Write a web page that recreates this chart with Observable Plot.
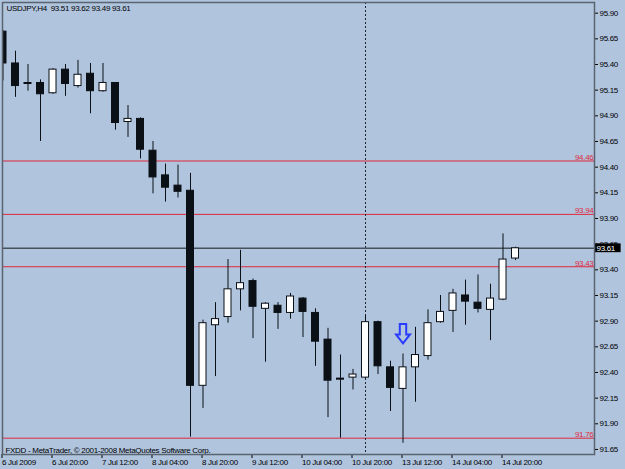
<!DOCTYPE html>
<html><head><meta charset="utf-8">
<script src="https://cdn.jsdelivr.net/npm/d3@7"></script>
<script src="https://cdn.jsdelivr.net/npm/@observablehq/plot@0.6"></script>
<style>
body{margin:0;background:#b0c4de;}
</style></head><body><div id="chart"></div>
<script>
// USDJPY H4 candles (bar index 0 = 6 Jul 2009 04:00)
const opens  = [95.72,95.41,95.22,95.22,95.12,95.35,95.19,95.31,95.14,95.22,94.84,94.87,94.56,94.32,94.22,94.17,92.27,92.86,92.94,93.21,93.29,93.02,93.05,92.98,93.12,92.98,92.72,92.34,92.35,92.35,92.89,92.45,92.24,92.45,92.56,92.89,93.00,93.15,93.08,93.01,93.11,93.51];
const highs  = [95.73,95.53,95.40,95.25,95.36,95.40,95.44,95.41,95.41,95.22,95.00,94.88,94.65,94.43,94.42,94.34,92.91,93.08,93.50,93.59,93.31,93.08,93.08,93.17,93.13,93.02,92.83,92.57,92.43,92.95,92.90,92.51,92.58,92.84,93.01,93.15,93.21,93.30,93.35,93.26,93.75,93.62];
const lows   = [95.24,95.08,95.14,94.65,95.11,95.09,95.17,94.92,95.13,94.76,94.69,94.48,94.14,94.06,94.10,91.77,92.05,92.36,92.88,93.00,92.73,92.50,92.82,92.92,92.74,92.46,91.96,91.76,92.23,92.34,92.38,92.02,91.71,92.11,92.52,92.88,92.79,92.86,92.98,92.71,93.10,93.49];
const closes = [95.41,95.19,95.21,95.11,95.35,95.21,95.30,95.14,95.22,94.83,94.87,94.57,94.30,94.20,94.16,92.27,92.88,92.92,93.21,93.27,93.04,93.07,92.98,93.14,92.99,92.70,92.32,92.33,92.38,92.89,92.46,92.25,92.45,92.57,92.88,92.99,93.17,93.09,93.02,93.12,93.50,93.61];

const levels = [94.46, 93.94, 93.43, 91.76];
const bid = 93.61;
const priceTicks = [95.90,95.65,95.40,95.15,94.90,94.65,94.40,94.15,93.90,93.65,93.40,93.15,92.90,92.65,92.40,92.15,91.90,91.65];
const timeTickBars = [0,4,8,12,16,20,24,28,32,36,40];
const timeTickLabels = ["6 Jul 2009","6 Jul 20:00","7 Jul 12:00","8 Jul 04:00","8 Jul 20:00","9 Jul 12:00","10 Jul 04:00","10 Jul 20:00","13 Jul 12:00","14 Jul 04:00","14 Jul 20:00"];
const separatorBars = [29];
const arrows = [{i: 32, price: 92.775}];
const titleText = "USDJPY,H4  93.51 93.62 93.49 93.61";
const copyrightText = "FXDD - MetaTrader, \u00a9 2001-2008 MetaQuotes Software Corp.";

const bars = opens.map((o, i) => ({i, open: o, high: highs[i], low: lows[i], close: closes[i], up: closes[i] >= o}));

const dark = "#0b1016";
const red = "#e0283c";
const blue = "#2a3cff";

// hollow down-arrow symbol (MetaTrader arrow object)
const downArrow = {
  draw(ctx) {
    ctx.moveTo(-3.2, -10);
    ctx.lineTo(3.2, -10);
    ctx.lineTo(3.2, 0.5);
    ctx.lineTo(7, 0.5);
    ctx.lineTo(0, 9.5);
    ctx.lineTo(-7, 0.5);
    ctx.lineTo(-3.2, 0.5);
    ctx.closePath();
  }
};

const chart = Plot.plot({
  width: 625, height: 469,
  marginLeft: 2, marginRight: 31, marginTop: 2, marginBottom: 15,
  x: {type: "linear", domain: [-0.04, 47.32], label: null},
  y: {domain: [91.601, 96.004], label: null},
  style: {background: "#b0c4de", fontFamily: "Liberation Sans, Arial, sans-serif", fontSize: "8px", letterSpacing: "-0.3px", color: "#000", overflow: "visible"},
  marks: [
    Plot.ruleY(levels, {y: d => d, stroke: red, strokeWidth: 1}),
    Plot.text(levels, {y: d => d, text: d => d.toFixed(2), frameAnchor: "right", textAnchor: "end", lineAnchor: "bottom", dx: -1, dy: -1, fill: red}),
    Plot.ruleX(separatorBars, {x: d => d, stroke: "#1c232b", strokeDasharray: "2,2"}),
    Plot.ruleY([bid], {y: d => d, stroke: "#48525c", strokeWidth: 1.3}),
    Plot.ruleX(bars, {x: "i", y1: "low", y2: "high", stroke: dark, strokeWidth: 1, clip: "frame"}),
    Plot.rect(bars, {x1: d => d.i - 0.28, x2: d => d.i + 0.28, y1: "open", y2: "close", fill: d => d.up ? "#ffffff" : dark, stroke: dark, strokeWidth: 1, clip: "frame"}),
    Plot.dot(arrows, {x: "i", y: "price", symbol: downArrow, r: 8, fill: "none", stroke: blue, strokeWidth: 2}),
    Plot.text([titleText], {frameAnchor: "top-left", dx: 4, dy: 3, textAnchor: "start", lineAnchor: "top", fill: "#000"}),
    Plot.text([copyrightText], {frameAnchor: "bottom-left", dx: 3, dy: -2, textAnchor: "start", lineAnchor: "bottom", fill: "#000"}),
    Plot.axisY(priceTicks, {anchor: "right", tickSize: 3, tickPadding: 2, tickFormat: d => d.toFixed(2), fill: "#000", stroke: "#000", label: null}),
    Plot.axisX(timeTickBars, {anchor: "bottom", tickSize: 4, tickPadding: 1, tickFormat: d => timeTickLabels[timeTickBars.indexOf(d)], textAnchor: "start", dx: -1, fill: "#000", stroke: "#000", label: null}),
    Plot.rect([bid], {x1: 47.32, x2: 49.45, y1: d => d - 0.043, y2: d => d + 0.043, fill: "#000", clip: false}),
    Plot.text([bid], {y: d => d, text: d => d.toFixed(2), frameAnchor: "right", textAnchor: "start", dx: 2, fill: "#fff"}),
    Plot.frame({stroke: "#5a646e", strokeWidth: 1.5})
  ]
});
document.getElementById("chart").appendChild(chart);
</script></body></html>
